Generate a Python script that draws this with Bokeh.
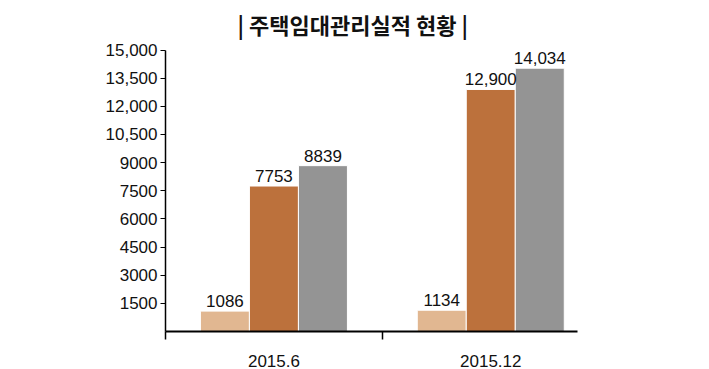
from bokeh.plotting import figure
from bokeh.models import ColumnDataSource, Range1d, FixedTicker, LabelSet, Label
from bokeh.core.properties import value
from bokeh.transform import dodge
from bokeh.embed import file_html
from bokeh.resources import INLINE

categories = ["2015.6", "2015.12"]
series_a = [1086, 1134]
series_b = [7753, 12900]
series_c = [8839, 14034]
y_ticks = [1500, 3000, 4500, 6000, 7500, 9000, 10500, 12000, 13500, 15000]
y_tick_labels = ["1500", "3000", "4500", "6000", "7500", "9000",
                 "10,500", "12,000", "13,500", "15,000"]
title_text = "| 주택임대관리실적 현황 |"

colors = ["#E1B791", "#BC713C", "#949494"]

W, H = 709, 369
frame_left, frame_right = 165, 577
axis_top, axis_bottom = 50, 334          # pixel rows of 15,000 and 0
y_max = y_ticks[-1]
# frame reaches the top of the canvas; the axis line is bounded to 0..y_max
y_end = y_max * axis_bottom / (axis_bottom - axis_top)


def fmt(v):
    return f"{v:,}" if v >= 10000 else str(v)


xs = [i + 0.5 for i in range(len(categories))]
src = ColumnDataSource(dict(
    x=xs, a=series_a, b=series_b, c=series_c,
    la=[fmt(v) for v in series_a],
    lb=[fmt(v) for v in series_b],
    lc=[fmt(v) for v in series_c],
))

p = figure(width=W, height=H, output_backend="svg", toolbar_location=None,
           x_range=Range1d(0, 1.9), y_range=Range1d(0, y_end),
           min_border_left=frame_left, min_border_right=W - frame_right,
           min_border_top=0, min_border_bottom=H - axis_bottom)
p.outline_line_color = None
p.grid.visible = False
p.background_fill_color = "white"
p.border_fill_color = "white"

title = Label(x=72, y=axis_bottom - 26, x_units="screen", y_units="screen",
              text=title_text,
              text_font="Noto Sans CJK KR", text_font_size="22px",
              text_font_style="bold", text_color="#111111",
              text_align="left", text_baseline="alphabetic")
p.add_layout(title)

bw = 0.226
offs = [-0.226, 0.0, 0.226]
for key, lab, off, col in zip(["a", "b", "c"], ["la", "lb", "lc"], offs, colors):
    p.vbar(x=dodge("x", off, range=p.x_range), top=key, width=bw, source=src,
           fill_color=col, line_color="white", line_width=1)
    ls = LabelSet(x=dodge("x", off, range=p.x_range), y=key, text=lab, source=src,
                  text_align="center", text_baseline="bottom", y_offset=4,
                  text_font=value("Liberation Sans"), text_font_size=value("17px"),
                  text_color="#111111")
    p.add_layout(ls)

# x axis
xa = p.xaxis[0]
xa.ticker = FixedTicker(ticks=xs, minor_ticks=[float(i) for i in range(len(categories))])
xa.major_label_overrides = {x: c for x, c in zip(xs, categories)}
xa.major_tick_line_color = None
xa.major_tick_out = 0
xa.major_tick_in = 0
xa.minor_tick_line_color = "black"
xa.minor_tick_line_width = 1.5
xa.minor_tick_out = 8
xa.minor_tick_in = 0
xa.axis_line_color = "black"
xa.axis_line_width = 2
xa.major_label_standoff = 15
xa.major_label_text_font = "Liberation Sans"
xa.major_label_text_font_size = "17px"
xa.major_label_text_color = "#111111"

# y axis
ya = p.yaxis[0]
ya.bounds = (0, y_max)
ya.ticker = FixedTicker(ticks=y_ticks, minor_ticks=[])
ya.major_label_overrides = {t: l for t, l in zip(y_ticks, y_tick_labels)}
ya.major_tick_out = 5
ya.major_tick_in = 0
ya.major_tick_line_color = "black"
ya.major_tick_line_width = 1
ya.minor_tick_line_color = None
ya.axis_line_color = "black"
ya.axis_line_width = 1.5
ya.major_label_standoff = 3
ya.major_label_text_font = "Liberation Sans"
ya.major_label_text_font_size = "17px"
ya.major_label_text_color = "#111111"

open("out.html", "w").write(file_html(p, INLINE))
